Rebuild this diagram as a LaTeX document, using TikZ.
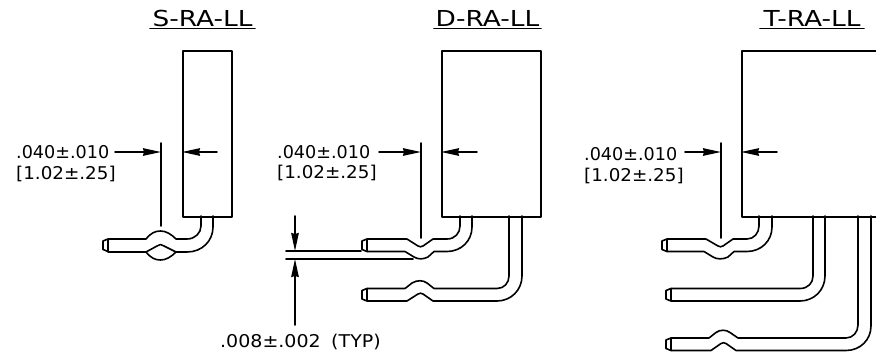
\documentclass[tikz,border=0pt]{standalone}
\usepackage{fontspec}
\setmainfont{DejaVu Sans}
\newfontfamily\titlefont[FakeStretch=1.2]{DejaVu Sans}
\newfontfamily\typfont[FakeStretch=1.08]{DejaVu Sans}
\newfontfamily\brfont[FakeStretch=1.04]{DejaVu Sans}
\usetikzlibrary{arrows.meta}
\tikzset{
  line/.style={line width=1.6pt,line join=round,line cap=round,black},
  dimtext/.style={inner sep=0pt,anchor=base west,font=\fontsize{17.6}{20}\selectfont},
  titletext/.style={inner sep=0pt,anchor=base,font=\titlefont\fontsize{22}{24}\selectfont},
  bodybox/.style={line,draw,fill=white,inner sep=0pt,anchor=north west},
  leader/.style={line,-{Stealth[length=18pt,width=7.5pt,inset=1pt]}},
}
% tip of a pin: left x, top y
\newcommand{\pintip}[2]{\draw[line] ({#1+5},#2) -- (#1,{#2+2}) -- (#1,{#2+10.5}) -- ({#1+5},{#2+12.5}) -- cycle;}
\begin{document}
\begin{tikzpicture}[x=1pt,y=-1pt]
\useasboundingbox (0,0) rectangle (876,356);
\clip (0,0) rectangle (876,356);
% titles
\node[titletext] (tS) at (202.5,26) {S-RA-LL};
\node[titletext] (tD) at (487.5,26) {D-RA-LL};
\node[titletext] (tT) at (812,26) {T-RA-LL};
\draw[line] (150,28.5) -- (255,28.5);
\draw[line] (434,28.5) -- (541,28.5);
\draw[line] (760,28.5) -- (864,28.5);
% bodies
\node[bodybox,minimum width=49pt,minimum height=166pt] (bS) at (182,50) {};
\node[bodybox,minimum width=99pt,minimum height=166pt] (bD) at (441,50) {};
\node[bodybox,minimum width=150pt,minimum height=166pt] (bT) at (741,50) {};
% S leads
\pintip{103}{239}
\draw[line] (108,239) -- (146,239) .. controls (151,233) and (155,231) .. (160.5,231) .. controls (166,231) and (171,234) .. (176,239) -- (187,239) .. controls (195,239) and (201,233) .. (201,226) -- (201,216);
\draw[line] (108,252) -- (146,252) .. controls (151,258) and (155,260) .. (160.5,260) .. controls (166,260) and (171,257) .. (176,252) -- (187,252) .. controls (202,252) and (213,241) .. (213,227) -- (213,216);
\draw[line] (146,252) -- (157,246) .. controls (159,244) and (162,244) .. (164,246) -- (176,252);
% D leads
\pintip{362}{239}
\draw[line] (367,239) -- (407,239) -- (418,246) .. controls (420,247) and (421,247) .. (423,246) -- (433,239) -- (447,239) .. controls (455,239) and (460,233) .. (460,226) -- (460,216);
\draw[line] (367,251.5) -- (405,251.5) -- (414,257) .. controls (418,259.5) and (423,259.5) .. (428,257) -- (434,251.5) -- (447,251.5) .. controls (461,251.5) and (472,241) .. (472,227) -- (472,216);
\pintip{362}{288.5}
\draw[line] (367,288.5) -- (405,288.5) -- (412,283) .. controls (417,280) and (423,280) .. (427,283) -- (434,288.5) -- (497,288.5) .. controls (504,288.5) and (509,283) .. (509,276) -- (509,216);
\draw[line] (367,301) -- (407,301) -- (418,294) .. controls (420,293) and (421,293) .. (423,294) -- (433,301) -- (497,301) .. controls (511,301) and (522,290) .. (522,276) -- (522,216);
% T leads
\pintip{662}{239}
\draw[line] (667,239) -- (706,239) -- (718,246) .. controls (720,247) and (721,247) .. (723,246) -- (733,239) -- (747,239) .. controls (754,239) and (759,233) .. (759,226) -- (759,216);
\draw[line] (667,251.5) -- (704,251.5) -- (713,257) .. controls (717,259.5) and (723,259.5) .. (728,257) -- (734,251.5) -- (747,251.5) .. controls (761,251.5) and (772,241) .. (772,227) -- (772,216);
\pintip{666}{288.5}
\draw[line] (671,288.5) -- (800,288.5) .. controls (808,288.5) and (813,283) .. (813,276) -- (813,216);
\draw[line] (671,301) -- (800,301) .. controls (814,301) and (825,290) .. (825,276) -- (825,216);
\pintip{666}{338}
\draw[line] (671,338) -- (709,338) -- (716,332.5) .. controls (720,329.5) and (726,329.5) .. (730,332.5) -- (738,338) -- (846,338) .. controls (853,338) and (858,332) .. (858,325) -- (858,216);
\draw[line] (671,350.5) -- (711,350.5) -- (721,343.5) .. controls (723,342.5) and (724,342.5) .. (726,343.5) -- (736,350.5) -- (846,350.5) .. controls (860,350.5) and (871,340) .. (871,326) -- (871,216);
% dimension text
\node[dimtext] (aS) at (16,158) {.040±.010};
\node[dimtext] (cS) at (16,179) {\brfont [1.02±.25]};
\node[dimtext] (aD) at (277,158) {.040±.010};
\node[dimtext] (cD) at (277,178.5) {\brfont [1.02±.25]};
\node[dimtext] (aT) at (584,160) {.040±.010};
\node[dimtext] (cT) at (584,181) {\brfont [1.02±.25]};
\node[dimtext] (typ) at (220,347) {\typfont .008±.002\hspace{10.5pt}(TYP)};
% S dims
\coordinate (eS1) at (161,143); \coordinate (eS2) at (161,226);
\coordinate (lS1) at (115,152); \coordinate (lS2) at (161,152);
\coordinate (rS1) at (217,152);
\draw[line] (eS1) -- (eS2);
\draw[leader] (lS1) -- (lS2);
\draw[leader] (rS1) -- (bS.west |- rS1);
% D dims
\coordinate (eD1) at (421,143); \coordinate (eD2) at (421,238);
\coordinate (lD1) at (379,152); \coordinate (lD2) at (421,152);
\coordinate (rD1) at (477,152);
\draw[line] (eD1) -- (eD2);
\draw[leader] (lD1) -- (lD2);
\draw[leader] (rD1) -- (bD.west |- rD1);
% T dims
\coordinate (eT1) at (721,143); \coordinate (eT2) at (721,238);
\coordinate (lT1) at (685,152); \coordinate (lT2) at (721,152);
\coordinate (rT1) at (777,152);
\draw[line] (eT1) -- (eT2);
\draw[leader] (lT1) -- (lT2);
\draw[leader] (rT1) -- (bT.west |- rT1);
% .008 dim
\coordinate (g1a) at (286,251); \coordinate (g1b) at (361,251);
\coordinate (g2a) at (286,259); \coordinate (g2b) at (413,259);
\coordinate (u1) at (295,216); \coordinate (u2) at (295,251);
\coordinate (d1) at (295,325); \coordinate (d2) at (295,259);
\draw[line] (g1a) -- (g1b);
\draw[line] (g2a) -- (g2b);
\draw[leader] (u1) -- (u2);
\draw[leader] (d1) -- (d2);
\end{tikzpicture}
\end{document}
